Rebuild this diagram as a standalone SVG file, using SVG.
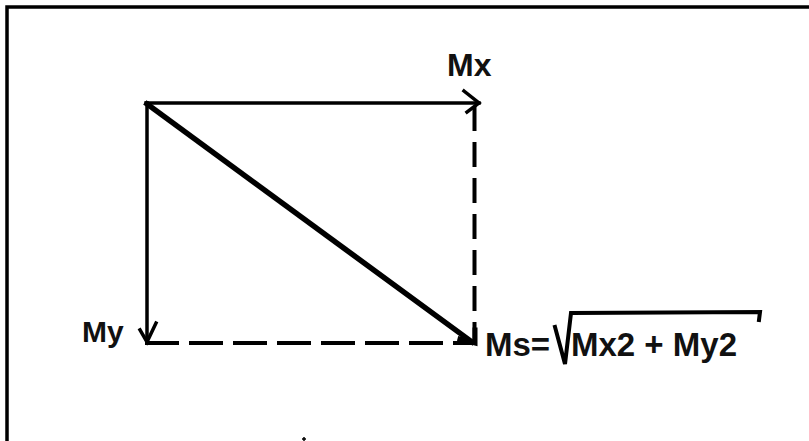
<svg xmlns="http://www.w3.org/2000/svg" width="809" height="441" viewBox="0 0 809 441">
<style>
.ln{stroke:#000;fill:none;stroke-linecap:square;stroke-linejoin:miter}
.t{font-family:"Liberation Sans",Arial,sans-serif;font-weight:bold;fill:#111}
</style>
<rect width="809" height="441" fill="#fff"/>
<g id="frame">
<path class="ln" d="M7,441 V7 H809" stroke-width="3.5"/>
</g>
<g id="connectors">
<path class="ln" d="M146,103 H479" stroke-width="3.5"/>
<path class="ln" d="M464,91 L479,103 L467,112" stroke-width="3.5"/>
<path class="ln" d="M147,103 V342" stroke-width="3.5"/>
<path class="ln" d="M140,330 L147,342 L156,323" stroke-width="3.5"/>
<path class="ln" d="M147,104 L472,342" stroke-width="5.5"/>
<path class="ln" d="M460,339 L475,343 L475,330" stroke-width="5"/>
<path class="ln" d="M474.5,108 V343" stroke-width="4" stroke-dasharray="21 15" stroke-linecap="butt"/>
<path class="ln" d="M147,343 H472" stroke-width="4" stroke-dasharray="30 14" stroke-linecap="butt"/>
</g>
<g id="mx"><text class="t" x="447" y="76" font-size="32">Mx</text></g>
<g id="my"><text class="t" x="82" y="342" font-size="30">My</text></g>
<g id="ms">
<text class="t" x="485" y="356" font-size="33">Ms=</text>
<path class="ln" d="M555,327 L565,364 L571,313 L760,312 L759,320" stroke-width="4"/>
<text class="t" x="571" y="356" font-size="33">Mx2 + My2</text>
</g>
<path d="M302,439 h4 M304,437 v4" stroke="#000" stroke-width="1.5"/>
</svg>
